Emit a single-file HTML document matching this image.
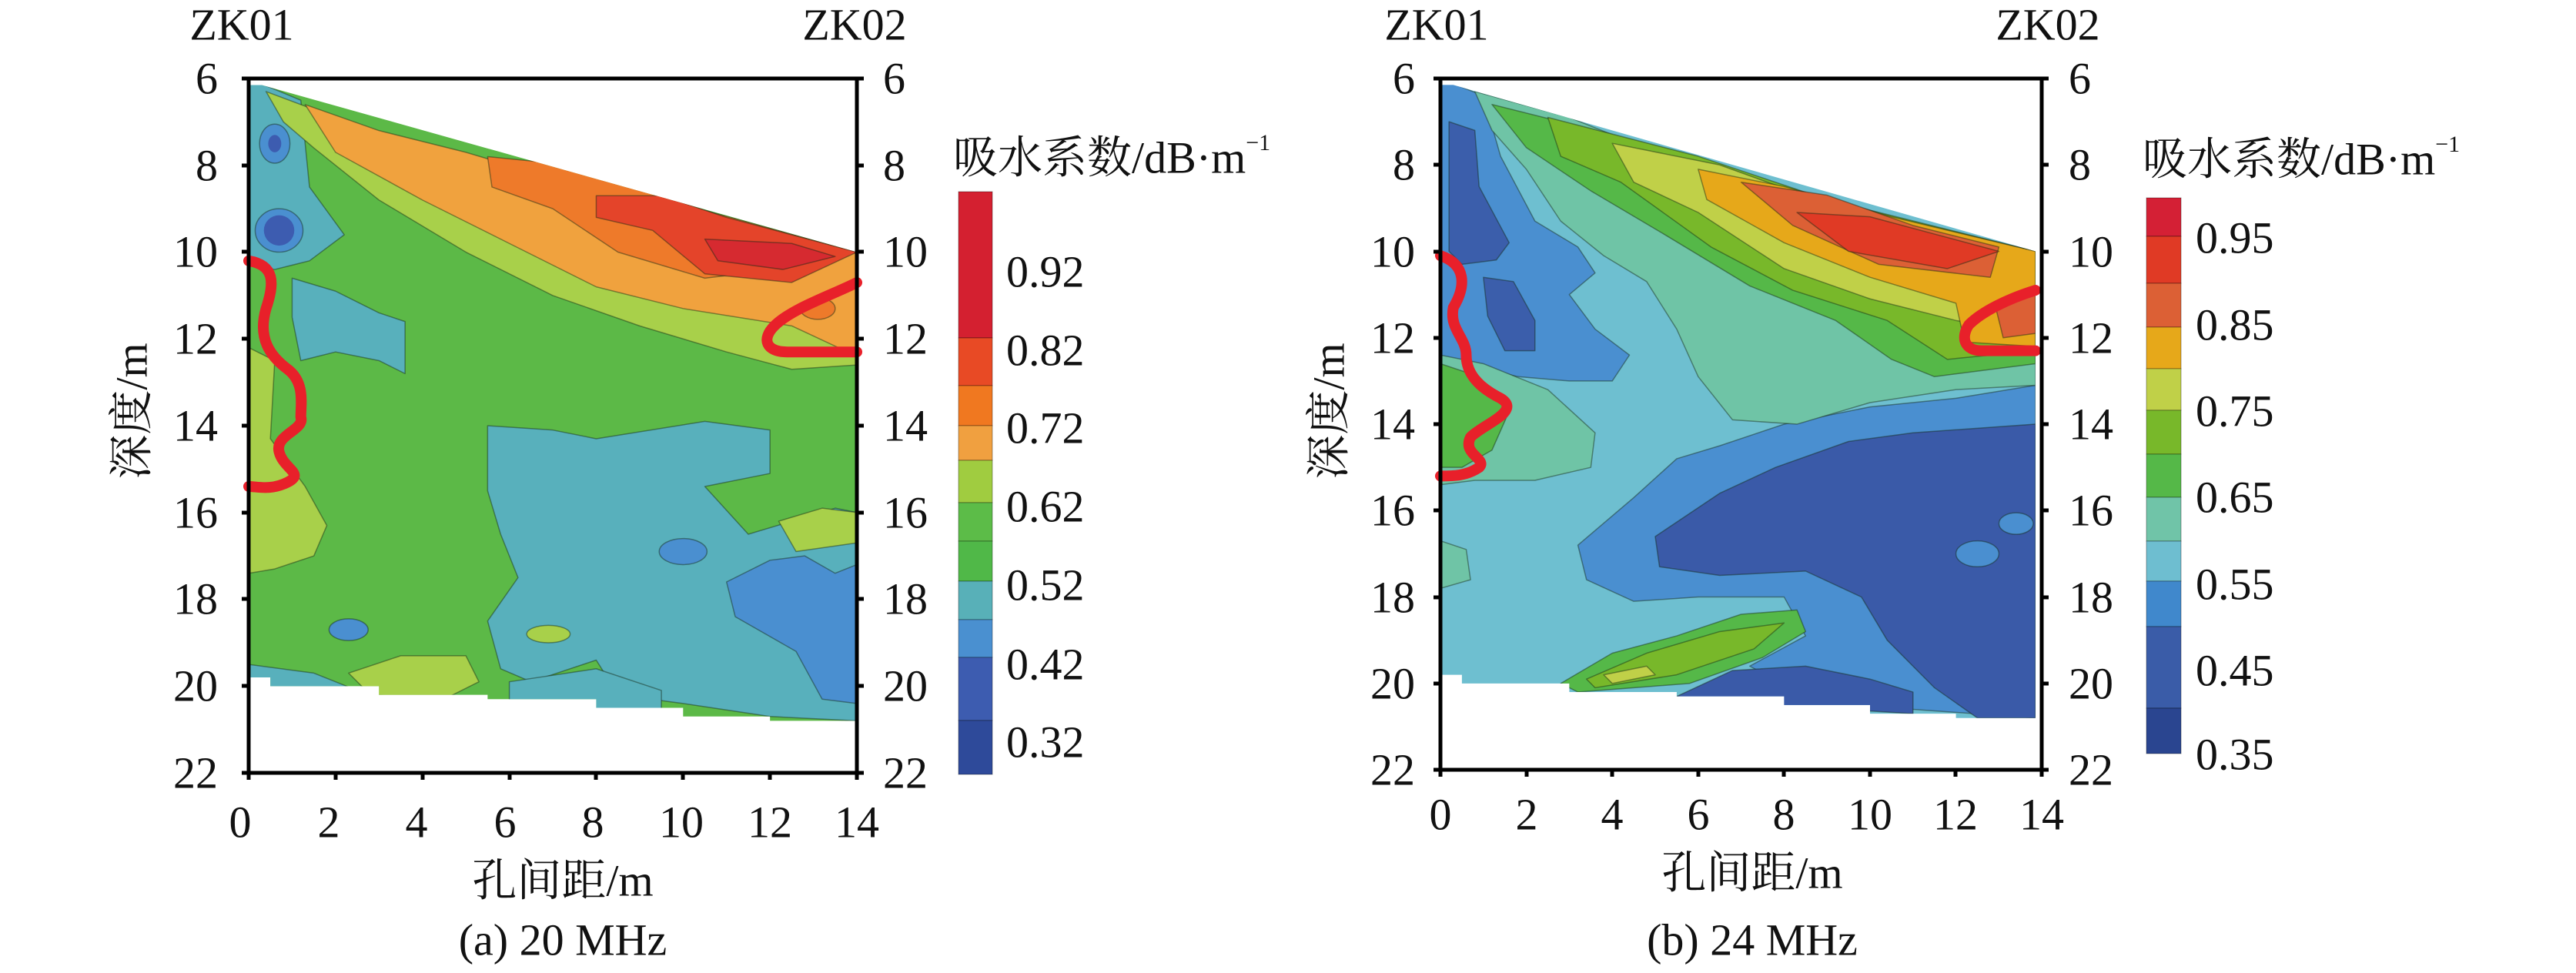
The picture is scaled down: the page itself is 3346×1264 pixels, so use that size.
<!DOCTYPE html>
<html><head><meta charset="utf-8"><style>
html,body{margin:0;padding:0;background:#fff;}
svg text{font-family:"Liberation Serif","Noto Serif CJK SC",serif;fill:#111;}
</style></head><body>
<svg width="3346" height="1259" viewBox="0 0 3346 1259" xmlns="http://www.w3.org/2000/svg">
<defs>
<clipPath id="ra" clipPathUnits="userSpaceOnUse">
<polygon points="0,6.15 0.3,6.15 14,10 14,20.8 12,20.8 12,20.7 10,20.7 10,20.5 8,20.5 8,20.3 5.5,20.3 5.5,20.2 3,20.2 3,20 0.5,20 0.5,19.8 0,19.8"/>
</clipPath>
<clipPath id="rb" clipPathUnits="userSpaceOnUse">
<polygon points="0,6.15 0.3,6.15 13.85,10 13.85,20.8 12,20.8 12,20.7 10,20.7 10,20.5 8,20.5 8,20.3 5.5,20.3 5.5,20.2 3,20.2 3,20 0.5,20 0.5,19.8 0,19.8"/>
</clipPath>
<style>
.c{stroke:rgba(20,40,20,0.45);stroke-width:1.5;vector-effect:non-scaling-stroke;stroke-linejoin:round}
.rl{fill:none;stroke:#e8202a;stroke-width:14;vector-effect:non-scaling-stroke;stroke-linecap:round;stroke-linejoin:round}
</style>
</defs>

<!-- ===== Panel A ===== -->
<g transform="translate(323,102) scale(56.43,56.38) translate(0,-6)">
<g clip-path="url(#ra)">
<rect x="0" y="6" width="14" height="15" fill="#5cb947"/>
<polygon class="c" fill="#58b0bc" points="0,6 1.2,6.5 1.4,8.5 2.2,9.6 1.4,10.2 0.6,10.4 0,10.3"/>
<ellipse class="c" cx="0.6" cy="7.5" rx="0.35" ry="0.45" fill="#4a8fd0"/>
<ellipse cx="0.6" cy="7.5" rx="0.15" ry="0.2" fill="#3d5cb0"/>
<ellipse class="c" cx="0.7" cy="9.5" rx="0.55" ry="0.5" fill="#4a8fd0"/>
<ellipse cx="0.7" cy="9.5" rx="0.35" ry="0.35" fill="#3d5cb0"/>
<polygon class="c" fill="#58b0bc" points="1,10.6 2,10.9 3,11.4 3.6,11.6 3.6,12.8 3,12.5 2,12.3 1.2,12.5 1,11.5"/>
<polygon class="c" fill="#58b0bc" points="5.5,14 7,14.1 8,14.3 10.5,13.9 12,14.1 12,15.1 10.5,15.4 11.5,16.5 12.5,16.2 13.5,15.9 14,16 14,20.8 12,20.7 10,20.4 8.5,20.2 8,19.4 6.5,19.9 5.8,19.6 5.5,18.5 6.2,17.5 5.8,16.5 5.5,15.5"/>
<polygon class="c" fill="#4a8fd0" points="11,17.6 12,17.1 12.8,17 13.5,17.4 14,17.2 14,20.4 13.2,20.3 12.6,19.2 11.2,18.4"/>
<ellipse class="c" cx="10" cy="16.9" rx="0.55" ry="0.3" fill="#4a8fd0"/>
<ellipse class="c" cx="2.3" cy="18.7" rx="0.45" ry="0.25" fill="#4a8fd0"/>
<polygon class="c" fill="#58b0bc" points="0,19.5 1.5,19.7 2.5,20.1 0,20.1"/>
<polygon class="c" fill="#58b0bc" points="6,19.9 8,19.6 9.5,20.1 9.5,20.6 6,20.4"/>
<polygon class="c" fill="#a8d04a" points="0,12.2 0.6,12.5 0.5,14.3 1.3,15.4 1.8,16.3 1.5,17 0.6,17.3 0,17.4"/>
<polygon class="c" fill="#a8d04a" points="2.3,19.7 3.5,19.3 5,19.3 5.3,19.9 4.5,20.3 2.8,20.2"/>
<ellipse class="c" cx="6.9" cy="18.8" rx="0.5" ry="0.2" fill="#a8d04a"/>
<polygon class="c" fill="#a8d04a" points="12.2,16.2 13.2,15.9 14,16 14,16.7 12.6,16.9"/>
<polygon class="c" fill="#a8d04a" points="0.4,6.3 2,6.9 4,7.6 6,8.3 8,9 10,9.5 14,10 14,12.6 12.5,12.7 11,12.3 9,11.7 7,11 5,10 3,8.8 1.5,7.6 0.8,7"/>
<polygon class="c" fill="#f0a23e" points="1.3,6.6 3,7.2 5,7.7 8,8.6 11,9.3 14,10 14,12.4 12.5,11.7 10,11.3 8,10.8 6,9.8 4,8.8 2,7.7"/>
<polygon class="c" fill="#ee7a2a" points="5.5,7.8 7.5,8 10,8.9 14,10 13,10.3 10.5,10.6 8.5,10 7,9 5.6,8.5"/>
<polygon class="c" fill="#e4442a" points="8,8.7 9.5,8.7 11,9.2 14,10 12.5,10.7 10.5,10.5 9.3,9.5 8,9.2"/>
<polygon class="c" fill="#d62a30" points="10.5,9.7 12.5,9.8 13.5,10.1 12.3,10.4 10.8,10.2"/>
<ellipse class="c" cx="13.1" cy="11.3" rx="0.4" ry="0.25" fill="#ee7a2a"/>
</g>
<path class="rl" d="M0,10.2 C0.6,10.3 0.6,10.7 0.4,11.3 C0.2,12 0.5,12.4 0.9,12.7 C1.3,13 1.2,13.5 1.2,13.8 C1.3,14.1 0.6,14.2 0.7,14.6 C0.8,15 1.3,15.1 0.9,15.3 C0.5,15.5 0.2,15.4 0,15.4"/>
<path class="rl" d="M14,10.7 C13.4,11 12.5,11.3 12.1,11.7 C11.8,12 11.9,12.3 12.4,12.3 L14,12.3"/>
</g>

<!-- ===== Panel B ===== -->
<g transform="translate(1871,102) scale(55.8,56.13) translate(0,-6)">
<g clip-path="url(#rb)">
<rect x="0" y="6" width="14" height="15" fill="#6ebfd0"/>
<polygon class="c" fill="#4a8fd0" points="0,6 1,6.4 1.4,7.8 2.2,9.3 3.2,9.9 3.6,10.5 3,11 3.6,11.8 4.4,12.4 4,13 3,13 1.8,12.9 0.6,12.6 0,12.5"/>
<polygon class="c" fill="#3b5eab" points="0.2,7 0.8,7.2 0.9,8.5 1.6,9.8 1.3,10.2 0.5,10.3 0.2,10"/>
<polygon class="c" fill="#3b5eab" points="1,10.6 1.7,10.7 2.2,11.6 2.2,12.3 1.5,12.3 1.1,11.5"/>
<polygon class="c" fill="#4a8fd0" points="3.2,16.8 4.5,15.7 5.5,14.8 6.5,14.5 8,14 10,13.6 12,13.4 13.85,13.1 13.85,20.8 11,20.6 8.5,20.3 7.2,19.6 8.5,18.9 8,18 6,18 4.5,18.1 3.4,17.6"/>
<polygon class="c" fill="#3a5aa8" points="5,16.6 6.5,15.6 7.8,15 9.5,14.4 11,14.2 13.85,14 13.85,20.8 12.5,20.8 11.5,20.1 10.4,19 9.8,18 8.5,17.4 6.5,17.5 5.1,17.3"/>
<ellipse class="c" cx="12.5" cy="17" rx="0.5" ry="0.3" fill="#4a8fd0"/>
<ellipse class="c" cx="13.4" cy="16.3" rx="0.4" ry="0.25" fill="#4a8fd0"/>
<polygon class="c" fill="#3a5aa8" points="5.5,20.3 6.8,19.7 8.5,19.6 10,19.9 11,20.2 11,20.7 6,20.4"/>
<polygon class="c" fill="#6fc4a6" points="0,12.4 1,12.6 2.5,13.2 3.6,14.2 3.5,15 2.2,15.3 0.8,15.3 0,15.4"/>
<polygon class="c" fill="#55b848" points="0,12.6 0.9,12.9 1.6,13.7 1.2,14.6 0.5,15 0,15"/>
<polygon class="c" fill="#6fc4a6" points="0,16.7 0.6,16.9 0.7,17.6 0,17.8"/>
<polygon class="c" fill="#6fc4a6" points="0.8,6.3 3,6.9 5,7.7 7,8.4 10,9.3 13.85,10 13.85,13.1 12,13.2 10,13.5 8.3,14 6.8,13.9 6,12.9 5.5,11.8 4.8,10.7 3.8,10.1 2.8,9.3 2,8.1 1.2,7.2"/>
<polygon class="c" fill="#55b848" points="1.2,6.6 4,7.3 6,7.9 9,8.9 13.85,10 13.85,12.6 11.5,12.9 10.5,12.5 9.2,11.6 7.2,10.8 5.2,9.6 3.5,8.6 2,7.6"/>
<polygon class="c" fill="#78b82a" points="2.5,6.9 6,7.8 9,8.8 13.85,10 13.85,12.3 11.8,12.5 10.4,11.6 8.2,10.9 6.3,9.9 4.2,8.4 2.8,7.8"/>
<polygon class="c" fill="#c0d048" points="4,7.5 6.5,8 9,8.9 13.85,10 13.85,11.9 12,11.6 10,11.1 8,10.4 6,9.1 4.5,8.4"/>
<polygon class="c" fill="#e6a81a" points="6,8.1 8,8.5 10.5,9.2 13.85,10 13.85,12.2 12.2,12.1 12,11.2 10,10.6 8,9.8 6.2,8.8"/>
<polygon class="c" fill="#dc6035" points="7,8.4 9,8.7 11,9.4 13,9.9 12.8,10.6 10.2,10.3 8.2,9.4"/>
<polygon class="c" fill="#e03a25" points="8.3,9.1 10,9.2 11.5,9.6 13,10 11.8,10.4 9.5,10"/>
<polygon class="c" fill="#dc6035" points="12.9,11.2 13.85,10.9 13.85,11.9 13.1,12"/>
<polygon class="c" fill="#55b848" points="2.8,20 4,19.3 5.5,18.9 7,18.4 8.3,18.3 8.5,18.8 7.5,19.4 5.8,20 3.2,20.2"/>
<polygon class="c" fill="#78b82a" points="3.4,19.9 4.8,19.3 6.5,18.8 8,18.6 7.3,19.2 5.5,19.8 3.6,20.1"/>
<polygon class="c" fill="#c0d048" points="3.8,19.8 4.8,19.6 5,19.8 4,20"/>
</g>
<path class="rl" d="M0,10.1 C0.6,10.3 0.6,10.8 0.3,11.3 C0.2,11.8 0.6,12 0.6,12.4 C0.6,12.9 1,13.2 1.4,13.4 C1.9,13.7 1,14 0.7,14.3 C0.5,14.7 1.1,14.8 0.9,15 C0.6,15.2 0.3,15.2 0,15.2"/>
<path class="rl" d="M13.85,10.9 C13.2,11.1 12.6,11.4 12.3,11.7 C12.1,12 12.2,12.3 12.6,12.3 L13.85,12.3"/>
</g>

<g stroke="#000" stroke-width="5" fill="none">
<rect x="323" y="102" width="790" height="902"/>
<rect x="1871" y="102" width="781" height="898"/>
</g>
<g stroke="#000" stroke-width="5">
<line x1="314" y1="102" x2="323" y2="102"/><line x1="314" y1="215" x2="323" y2="215"/><line x1="314" y1="327" x2="323" y2="327"/><line x1="314" y1="440" x2="323" y2="440"/><line x1="314" y1="553" x2="323" y2="553"/><line x1="314" y1="666" x2="323" y2="666"/><line x1="314" y1="778" x2="323" y2="778"/><line x1="314" y1="891" x2="323" y2="891"/><line x1="314" y1="1004" x2="323" y2="1004"/>
<line x1="1113" y1="102" x2="1122" y2="102"/><line x1="1113" y1="215" x2="1122" y2="215"/><line x1="1113" y1="327" x2="1122" y2="327"/><line x1="1113" y1="440" x2="1122" y2="440"/><line x1="1113" y1="553" x2="1122" y2="553"/><line x1="1113" y1="666" x2="1122" y2="666"/><line x1="1113" y1="778" x2="1122" y2="778"/><line x1="1113" y1="891" x2="1122" y2="891"/><line x1="1113" y1="1004" x2="1122" y2="1004"/>
<line x1="323" y1="1004" x2="323" y2="1013"/><line x1="436" y1="1004" x2="436" y2="1013"/><line x1="549" y1="1004" x2="549" y2="1013"/><line x1="662" y1="1004" x2="662" y2="1013"/><line x1="774" y1="1004" x2="774" y2="1013"/><line x1="887" y1="1004" x2="887" y2="1013"/><line x1="1000" y1="1004" x2="1000" y2="1013"/><line x1="1113" y1="1004" x2="1113" y2="1013"/>
<line x1="1862" y1="102" x2="1871" y2="102"/><line x1="1862" y1="214" x2="1871" y2="214"/><line x1="1862" y1="327" x2="1871" y2="327"/><line x1="1862" y1="439" x2="1871" y2="439"/><line x1="1862" y1="551" x2="1871" y2="551"/><line x1="1862" y1="663" x2="1871" y2="663"/><line x1="1862" y1="776" x2="1871" y2="776"/><line x1="1862" y1="888" x2="1871" y2="888"/><line x1="1862" y1="1000" x2="1871" y2="1000"/>
<line x1="2652" y1="102" x2="2661" y2="102"/><line x1="2652" y1="214" x2="2661" y2="214"/><line x1="2652" y1="327" x2="2661" y2="327"/><line x1="2652" y1="439" x2="2661" y2="439"/><line x1="2652" y1="551" x2="2661" y2="551"/><line x1="2652" y1="663" x2="2661" y2="663"/><line x1="2652" y1="776" x2="2661" y2="776"/><line x1="2652" y1="888" x2="2661" y2="888"/><line x1="2652" y1="1000" x2="2661" y2="1000"/>
<line x1="1871" y1="1000" x2="1871" y2="1009"/><line x1="1983" y1="1000" x2="1983" y2="1009"/><line x1="2094" y1="1000" x2="2094" y2="1009"/><line x1="2206" y1="1000" x2="2206" y2="1009"/><line x1="2317" y1="1000" x2="2317" y2="1009"/><line x1="2429" y1="1000" x2="2429" y2="1009"/><line x1="2540" y1="1000" x2="2540" y2="1009"/><line x1="2652" y1="1000" x2="2652" y2="1009"/>
</g>

<g font-size="58" dominant-baseline="central">
<text x="314" y="32" text-anchor="middle">ZK01</text>
<text x="1110" y="32" text-anchor="middle">ZK02</text>
<g text-anchor="end">
<text x="283" y="102">6</text><text x="283" y="215">8</text><text x="283" y="327">10</text><text x="283" y="440">12</text><text x="283" y="553">14</text><text x="283" y="666">16</text><text x="283" y="778">18</text><text x="283" y="891">20</text><text x="283" y="1004">22</text>
</g>
<g text-anchor="start">
<text x="1147" y="102">6</text><text x="1147" y="215">8</text><text x="1147" y="327">10</text><text x="1147" y="440">12</text><text x="1147" y="553">14</text><text x="1147" y="666">16</text><text x="1147" y="778">18</text><text x="1147" y="891">20</text><text x="1147" y="1004">22</text>
</g>
<g text-anchor="middle">
<text x="312" y="1068">0</text><text x="427" y="1068">2</text><text x="541" y="1068">4</text><text x="656" y="1068">6</text><text x="770" y="1068">8</text><text x="885" y="1068">10</text><text x="1000" y="1068">12</text><text x="1113" y="1068">14</text>
<text x="731" y="1144">孔间距/m</text>
<text x="731" y="1221">(a) 20 MHz</text>
</g>
<text x="171" y="534" text-anchor="middle" transform="rotate(-90 171 534)">深度/m</text>
<text x="1238" y="205">吸水系数/dB·m<tspan font-size="30" dy="-20">−1</tspan></text>
<g text-anchor="start">
<text x="1307" y="353">0.92</text><text x="1307" y="455">0.82</text><text x="1307" y="556">0.72</text><text x="1307" y="658">0.62</text><text x="1307" y="760">0.52</text><text x="1307" y="863">0.42</text><text x="1307" y="964">0.32</text>
</g>
</g>

<g font-size="58" dominant-baseline="central">
<text x="1866" y="32" text-anchor="middle">ZK01</text>
<text x="2660" y="32" text-anchor="middle">ZK02</text>
<g text-anchor="end">
<text x="1838" y="102">6</text><text x="1838" y="214">8</text><text x="1838" y="327">10</text><text x="1838" y="439">12</text><text x="1838" y="551">14</text><text x="1838" y="663">16</text><text x="1838" y="776">18</text><text x="1838" y="888">20</text><text x="1838" y="1000">22</text>
</g>
<g text-anchor="start">
<text x="2687" y="102">6</text><text x="2687" y="214">8</text><text x="2687" y="327">10</text><text x="2687" y="439">12</text><text x="2687" y="551">14</text><text x="2687" y="663">16</text><text x="2687" y="776">18</text><text x="2687" y="888">20</text><text x="2687" y="1000">22</text>
</g>
<g text-anchor="middle">
<text x="1871" y="1058">0</text><text x="1983" y="1058">2</text><text x="2094" y="1058">4</text><text x="2206" y="1058">6</text><text x="2317" y="1058">8</text><text x="2429" y="1058">10</text><text x="2540" y="1058">12</text><text x="2652" y="1058">14</text>
<text x="2276" y="1134">孔间距/m</text>
<text x="2276" y="1221">(b) 24 MHz</text>
</g>
<text x="1726" y="534" text-anchor="middle" transform="rotate(-90 1726 534)">深度/m</text>
<text x="2783" y="207">吸水系数/dB·m<tspan font-size="30" dy="-20">−1</tspan></text>
<g text-anchor="start">
<text x="2852" y="309">0.95</text><text x="2852" y="422">0.85</text><text x="2852" y="534">0.75</text><text x="2852" y="646">0.65</text><text x="2852" y="759">0.55</text><text x="2852" y="871">0.45</text><text x="2852" y="980">0.35</text>
</g>
</g>

<g stroke="rgba(0,0,0,0.35)" stroke-width="1">
<rect x="1245" y="249" width="44" height="190" fill="#d42030"/>
<rect x="1245" y="439" width="44" height="62" fill="#e84a25"/>
<rect x="1245" y="501" width="44" height="52" fill="#f07820"/>
<rect x="1245" y="553" width="44" height="45" fill="#f0a040"/>
<rect x="1245" y="598" width="44" height="55" fill="#a0cc40"/>
<rect x="1245" y="653" width="44" height="50" fill="#5cbc48"/>
<rect x="1245" y="703" width="44" height="52" fill="#50b848"/>
<rect x="1245" y="755" width="44" height="50" fill="#58b0b8"/>
<rect x="1245" y="805" width="44" height="49" fill="#4a90d0"/>
<rect x="1245" y="854" width="44" height="82" fill="#3d5cb0"/>
<rect x="1245" y="936" width="44" height="70" fill="#2e4a9a"/>
</g>
<g stroke="rgba(0,0,0,0.35)" stroke-width="1">
<rect x="2788" y="257" width="45" height="50" fill="#d42035"/>
<rect x="2788" y="307" width="45" height="61" fill="#e03a25"/>
<rect x="2788" y="368" width="45" height="57" fill="#dc6035"/>
<rect x="2788" y="425" width="45" height="54" fill="#e6a81a"/>
<rect x="2788" y="479" width="45" height="54" fill="#c0d048"/>
<rect x="2788" y="533" width="45" height="57" fill="#78b82a"/>
<rect x="2788" y="590" width="45" height="56" fill="#55b848"/>
<rect x="2788" y="646" width="45" height="57" fill="#70c4a8"/>
<rect x="2788" y="703" width="45" height="52" fill="#6ebed0"/>
<rect x="2788" y="755" width="45" height="59" fill="#4088cc"/>
<rect x="2788" y="814" width="45" height="106" fill="#3a5ca8"/>
<rect x="2788" y="920" width="45" height="59" fill="#2a4590"/>
</g>
</svg>
</body></html>
